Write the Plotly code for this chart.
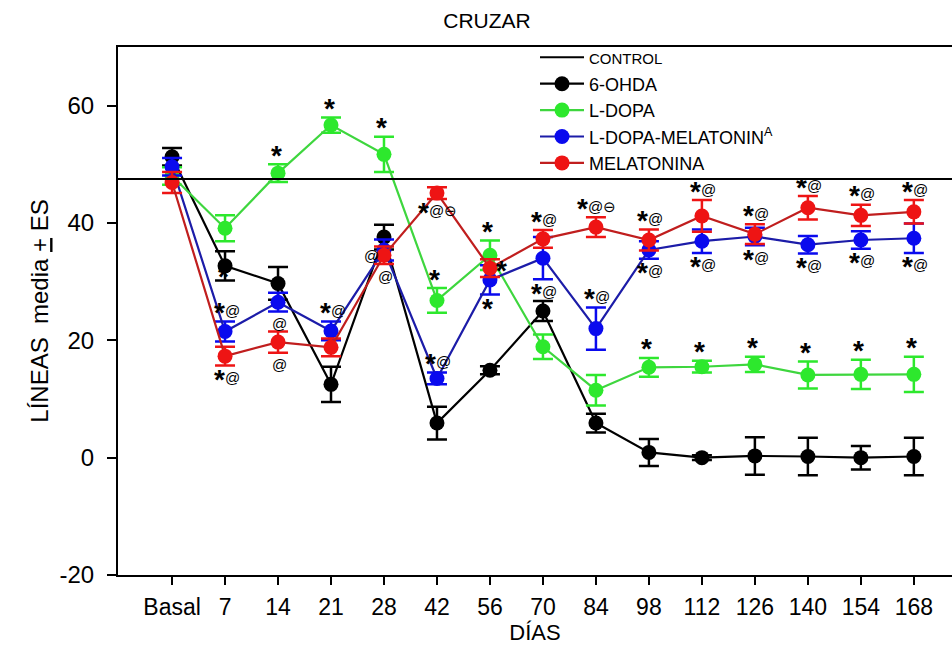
import plotly.graph_objects as go

# Days of follow-up
days = ["Basal", "7", "14", "21", "28", "42", "56", "70", "84",
        "98", "112", "126", "140", "154", "168"]

# Y tick values and their printed labels
y_ticks = [-20, 0, 20, 40, 60]
y_tick_text = ["-20", "0", "20", "40", "60"]

# Control group reference level
control_level = 47.5

# Mean +/- SE per group
ohda_mean = [51.3, 32.7, 29.7, 12.5, 37.6, 5.9, 14.9, 25.0, 5.9, 0.9, 0.0, 0.3, 0.2, 0.0, 0.2]
ohda_se = [1.5, 2.5, 2.8, 3.0, 2.1, 2.8, 0.7, 1.7, 1.6, 2.3, 0.4, 3.2, 3.2, 2.0, 3.2]

ldopa_mean = [48.0, 39.1, 48.5, 56.7, 51.7, 26.8, 34.5, 18.9, 11.5, 15.4, 15.5, 15.9, 14.1, 14.2, 14.2]
ldopa_se = [1.5, 2.2, 1.5, 1.3, 3.0, 2.1, 2.5, 2.1, 2.6, 1.6, 1.0, 1.3, 2.3, 2.5, 3.0]

ldmel_mean = [49.6, 21.5, 26.5, 21.6, 35.4, 13.5, 30.3, 34.0, 22.0, 35.4, 36.9, 37.7, 36.3, 37.1, 37.4]
ldmel_se = [1.5, 1.7, 1.6, 1.6, 1.8, 1.0, 2.5, 3.6, 3.6, 1.5, 2.0, 1.5, 1.5, 1.5, 2.5]

mel_mean = [46.9, 17.3, 19.7, 18.8, 34.5, 45.1, 32.3, 37.3, 39.3, 37.1, 41.2, 38.1, 42.6, 41.3, 41.9]
mel_se = [1.8, 1.6, 1.8, 1.5, 1.5, 1.0, 1.5, 1.5, 1.7, 1.8, 2.7, 1.7, 2.0, 1.8, 2.0]

# Significance marks: (group, day, text, side)
sig_marks = [
    ("6-OHDA", "7", "*", "on"),
    ("L-DOPA-MEL", "7", "*@", "above"),
    ("MELATONINA", "7", "*@", "below"),
    ("L-DOPA", "14", "*", "above"),
    ("L-DOPA-MEL", "14", "@", "below"),
    ("MELATONINA", "14", "@", "below"),
    ("L-DOPA", "21", "*", "above"),
    ("L-DOPA-MEL", "21", "*@", "above"),
    ("L-DOPA", "28", "*", "above"),
    ("MELATONINA", "28", "@", "left"),
    ("MELATONINA", "28", "@", "below"),
    ("MELATONINA", "42", "*@⊖", "below"),
    ("L-DOPA", "42", "*", "above"),
    ("L-DOPA-MEL", "42", "*@", "above"),
    ("L-DOPA", "56", "*", "above"),
    ("MELATONINA", "56", "*", "right"),
    ("L-DOPA-MEL", "56", "*", "below"),
    ("MELATONINA", "70", "*@", "above"),
    ("L-DOPA-MEL", "70", "*@", "below"),
    ("MELATONINA", "84", "*@⊖", "above"),
    ("L-DOPA-MEL", "84", "*@", "above"),
    ("MELATONINA", "98", "*@", "above"),
    ("L-DOPA-MEL", "98", "*@", "below"),
    ("L-DOPA", "98", "*", "above"),
    ("MELATONINA", "112", "*@", "above"),
    ("L-DOPA-MEL", "112", "*@", "below"),
    ("L-DOPA", "112", "*", "above"),
    ("MELATONINA", "126", "*@", "above"),
    ("L-DOPA-MEL", "126", "*@", "below"),
    ("L-DOPA", "126", "*", "above"),
    ("MELATONINA", "140", "*@", "above"),
    ("L-DOPA-MEL", "140", "*@", "below"),
    ("L-DOPA", "140", "*", "above"),
    ("MELATONINA", "154", "*@", "above"),
    ("L-DOPA-MEL", "154", "*@", "below"),
    ("L-DOPA", "154", "*", "above"),
    ("MELATONINA", "168", "*@", "above"),
    ("L-DOPA-MEL", "168", "*@", "below"),
    ("L-DOPA", "168", "*", "above"),
]

groups = {
    "6-OHDA": dict(mean=ohda_mean, se=ohda_se, label="6-OHDA",
                   marker="#000000", line="#000000"),
    "L-DOPA": dict(mean=ldopa_mean, se=ldopa_se, label="L-DOPA",
                   marker="#2de82d", line="#3ed63e"),
    "L-DOPA-MEL": dict(mean=ldmel_mean, se=ldmel_se,
                       label="L-DOPA-MELATONIN<sup>A</sup>",
                       marker="#0a0aee", line="#1c1ca8"),
    "MELATONINA": dict(mean=mel_mean, se=mel_se, label="MELATONINA",
                       marker="#ee1414", line="#c01e1e"),
}

FONT = "Liberation Sans, Arial, sans-serif"
STAR_W, SYM_W = 11, 14   # approximate glyph widths (px) for centring the marks

fig = go.Figure()

# Control: horizontal reference line across the plot, plus a legend entry
fig.add_shape(type="line", xref="paper", x0=0, x1=1, yref="y",
              y0=control_level, y1=control_level,
              line=dict(color="black", width=2))
fig.add_trace(go.Scatter(
    x=[None], y=[None], mode="lines",
    name="<span style='font-size:15px'>CONTROL</span>",
    line=dict(color="black", width=2)))

for key, g in groups.items():
    fig.add_trace(go.Scatter(
        x=days, y=g["mean"], mode="lines+markers", name=g["label"],
        line=dict(color=g["line"], width=2.2),
        marker=dict(color=g["marker"], size=15),
        error_y=dict(type="data", array=g["se"], symmetric=True,
                     color=g["marker"], thickness=2.5, width=10),
    ))

# Significance marks, anchored to each group's mean and error bar
for key, day, text, side in sig_marks:
    g = groups[key]
    i = days.index(day)
    m, s = g["mean"][i], g["se"][i]
    if side == "above":
        y, dy, dx = m + s, 11, 0
    elif side == "below":
        y, dy, dx = m - s, -12, 0
    elif side == "left":
        y, dy, dx = m, 0, -14
    elif side == "right":
        y, dy, dx = m, 0, 14
    else:
        y, dy, dx = m, -9, 0

    has_star = text.startswith("*")
    rest = text[1:] if has_star else text
    width = (STAR_W if has_star else 0) + SYM_W * len(rest)
    split = dx - width / 2 + (STAR_W if has_star else 0)
    if has_star:
        fig.add_annotation(x=i, y=y, xref="x", yref="y", text="<b>*</b>",
                           showarrow=False, xanchor="right", yanchor="middle",
                           xshift=split + (3 if rest else 0), yshift=dy - 2,
                           font=dict(size=28, color="black", family=FONT))
    if rest:
        fig.add_annotation(x=i, y=y, xref="x", yref="y", text=rest,
                           showarrow=False, xanchor="left", yanchor="middle",
                           xshift=split - 1, yshift=dy,
                           font=dict(size=15, color="black", family=FONT))

fig.update_layout(
    width=952, height=650,
    margin=dict(l=118, r=0, t=47, b=75),
    paper_bgcolor="white", plot_bgcolor="white",
    font=dict(family=FONT, color="black"),
    title=dict(text="CRUZAR", x=487 / 952, xref="container", xanchor="center",
               y=1 - 21 / 650, yref="container", yanchor="middle",
               font=dict(size=21)),
    xaxis=dict(type="category", categoryorder="array", categoryarray=days,
               range=[-1.02, 14.72], showline=True, linecolor="black",
               linewidth=2, mirror=True, ticks="outside", ticklen=8,
               tickwidth=1.5, tickcolor="black", showgrid=False,
               zeroline=False, tickfont=dict(size=23), ticklabelstandoff=2,
               title=dict(text="DÍAS", font=dict(size=22), standoff=0)),
    yaxis=dict(range=[-20, 70], tickvals=y_ticks, ticktext=y_tick_text,
               showline=True, linecolor="black", linewidth=2,
               ticks="outside", ticklen=9, tickwidth=1.5, tickcolor="black",
               showgrid=False, zeroline=False, tickfont=dict(size=24),
               ticklabelstandoff=8,
               title=dict(text="LÍNEAS  media <u>+</u> ES",
                          font=dict(size=24), standoff=4)),
    legend=dict(x=0.5, y=1.015, xanchor="left", yanchor="top",
                bgcolor="rgba(0,0,0,0)", font=dict(size=18),
                itemwidth=44, traceorder="normal"),
    showlegend=True,
)

fig.write_html("out.html")
